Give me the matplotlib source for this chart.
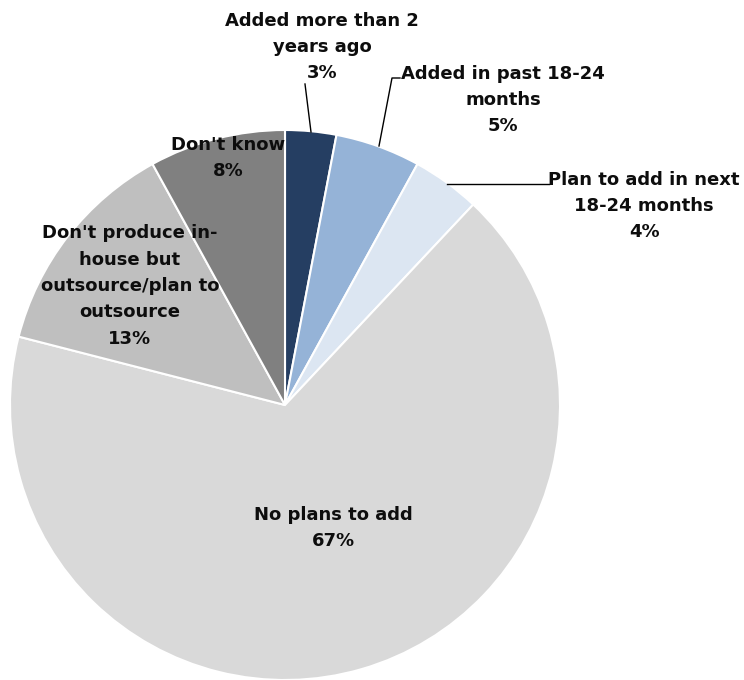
import matplotlib
matplotlib.use("Agg")
import matplotlib.pyplot as plt

# survey shares, clockwise from 12 o'clock
labels = [
    "Added more than 2\nyears ago",
    "Added in past 18-24\nmonths",
    "Plan to add in next\n18-24 months",
    "No plans to add",
    "Don't produce in-\nhouse but\noutsource/plan to\noutsource",
    "Don't know",
]
shares = [3, 5, 4, 67, 13, 8]
colors = ["#253e62", "#95b3d7", "#dce6f2", "#d9d9d9", "#bfbfbf", "#808080"]

W, H = 744, 680
fig = plt.figure(figsize=(W / 100, H / 100), dpi=100)
ax = fig.add_axes([0, 0, 1, 1])

cx, cy, r = 285, H - 405, 275
ax.pie(shares, colors=colors, startangle=90, counterclock=False,
       center=(cx, cy), radius=r, frame=True,
       wedgeprops=dict(edgecolor="white", linewidth=1.5))
ax.set_xlim(0, W)
ax.set_ylim(0, H)
ax.set_aspect("equal")
ax.axis("off")

font = dict(fontsize=13, fontweight="bold", family="DejaVu Sans",
            color="#0d0d0d", ha="center", va="center", linespacing=1.6)

def txt(i, x, y):
    ax.text(x, H - y, f"{labels[i]}\n{shares[i]}%", **font)

# outside labels with leader lines (y measured from the top)
txt(0, 322, 47)
ax.plot([305, 311], [H - 84, H - 132], color="black", lw=1)
txt(1, 503, 100)
ax.plot([400, 392, 379], [H - 78, H - 78, H - 146], color="black", lw=1)
txt(2, 644, 206)
ax.plot([447, 549], [H - 184, H - 184], color="black", lw=1)

# inside labels
txt(5, 228, 158)
txt(4, 130, 286)
txt(3, 333, 528)

fig.savefig("out.png", dpi=100)
